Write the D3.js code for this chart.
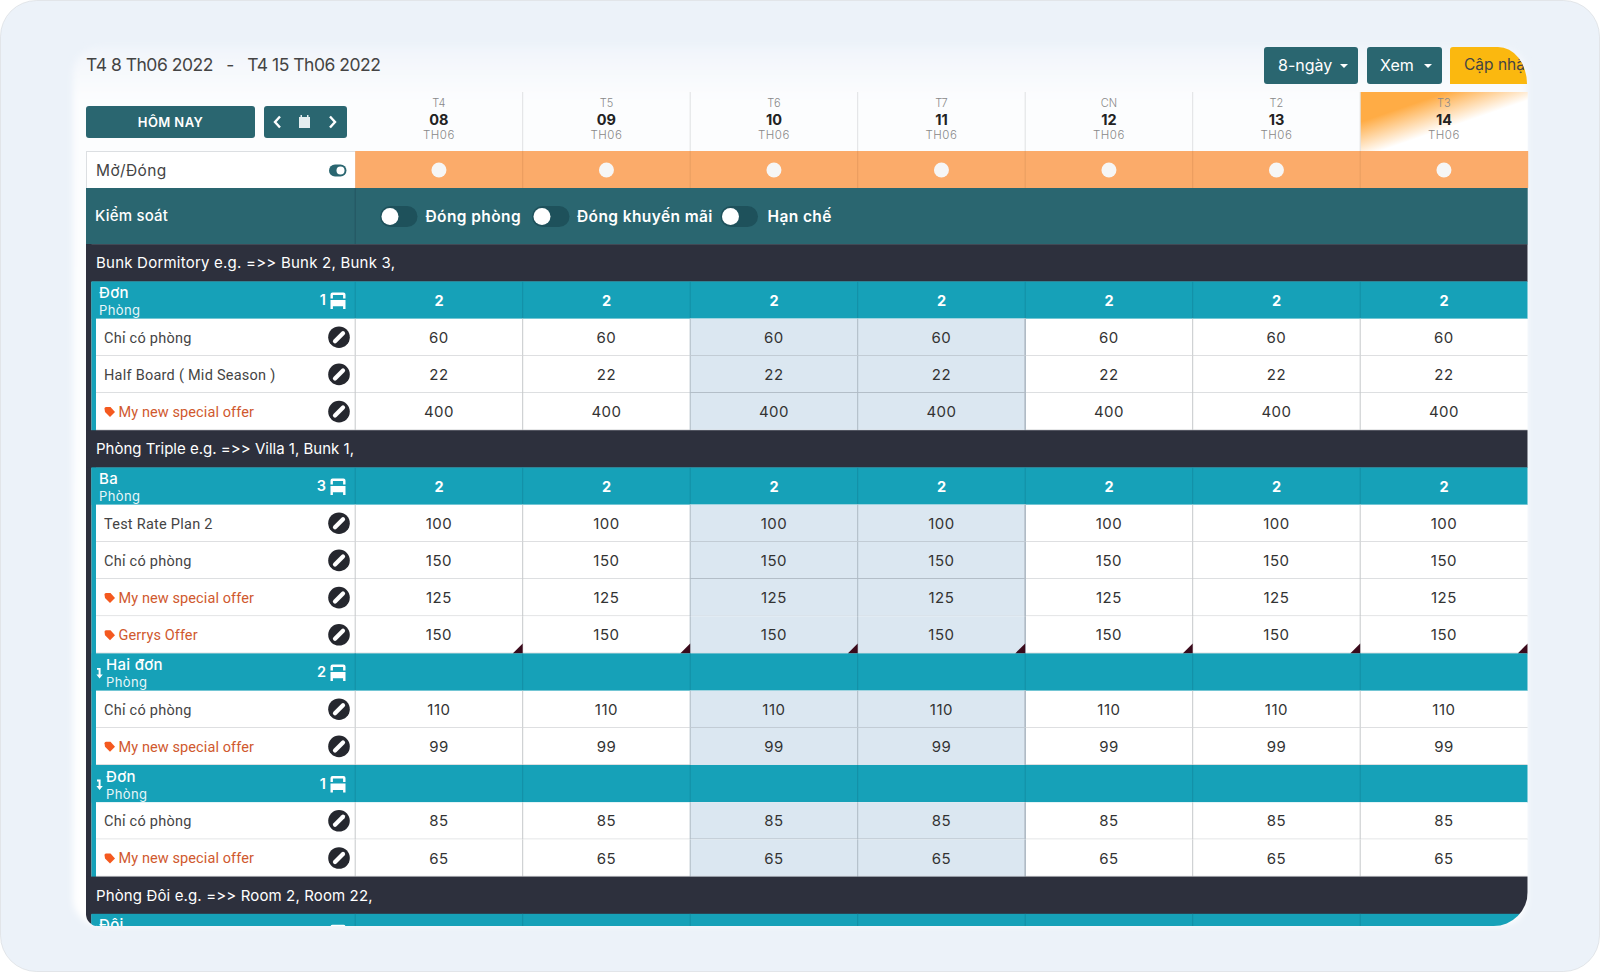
<!DOCTYPE html>
<html><head><meta charset="utf-8">
<script src="https://cdnjs.cloudflare.com/ajax/libs/d3/7.8.5/d3.min.js"></script>
<style>html,body{margin:0;padding:0;background:#fff;overflow:hidden}svg{display:block}text{font-family:Inter,"Noto Sans",sans-serif;font-feature-settings:"calt" 0,"liga" 0}</style>
</head><body><div id="c"></div>
<script>
const dayNames=['T4','T5','T6','T7','CN','T2','T3'];
const dayDates=['08','09','10','11','12','13','14'];
const monthNames=['TH06','TH06','TH06','TH06','TH06','TH06','TH06'];
const titleText='T4 8 Th06 2022   -   T4 15 Th06 2022';
const rowTypes=['group','room','plan','plan','offer','group','room','plan','plan','offer','flag','room','plan','offer','room','plan','offer','group','room'];
const rowLabels=['Bunk Dormitory e.g. =>> Bunk 2, Bunk 3,','Đơn','Chỉ có phòng','Half Board ( Mid Season )','My new special offer','Phòng Triple e.g. =>> Villa 1, Bunk 1,','Ba','Test Rate Plan 2','Chỉ có phòng','My new special offer','Gerrys Offer','Hai đơn','Chỉ có phòng','My new special offer','Đơn','Chỉ có phòng','My new special offer','Phòng Đôi e.g. =>> Room 2, Room 22,','Đôi'];
const roomCounts=[null,1,null,null,null,null,3,null,null,null,null,2,null,null,1,null,null,null,null];
const subRoom=[0,0,0,0,0,0,0,0,0,0,0,1,0,0,1,0,0,0,0];
const rowValues=[
 [],[2,2,2,2,2,2,2],[60,60,60,60,60,60,60],[22,22,22,22,22,22,22],[400,400,400,400,400,400,400],
 [],[2,2,2,2,2,2,2],[100,100,100,100,100,100,100],[150,150,150,150,150,150,150],[125,125,125,125,125,125,125],[150,150,150,150,150,150,150],
 [],[110,110,110,110,110,110,110],[99,99,99,99,99,99,99],
 [],[85,85,85,85,85,85,85],[65,65,65,65,65,65,65],
 [],[]];
const shadedDays=['10','11'];
const controlLabels=['Đóng phòng','Đóng khuyến mãi','Hạn chế'];
const c={bg:'#ecf2f9',dark:'#2d303d',teal:'#16a1b8',green:'#2a6670',orange:'#fbab6a',shade:'#dbe7f1',line:'#d6d8da',vline:'#c6c8ca',shadeLine:'#acb8c3',ink:'#333',offer:'#d0592e',tag:'#f4591f'};

const svg=d3.select('#c').append('svg').attr('width',1600).attr('height',972);
const defs=svg.append('defs');
const x=d3.scaleBand().domain(dayDates).range([355.2,1527.7]);
const y=d3.scaleBand().domain(d3.range(rowTypes.length)).range([244.2,244.2+37.2*rowTypes.length]);
const L=86,R=1527.7,B=926;

const blur=defs.append('filter').attr('id','soft').attr('x','-5%').attr('y','-5%').attr('width','110%').attr('height','110%');
blur.append('feGaussianBlur').attr('stdDeviation',3);
const pg=defs.append('linearGradient').attr('id','pg').attr('x1',0).attr('y1',0).attr('x2',0).attr('y2',1);
pg.append('stop').attr('offset',0).attr('stop-color','#f1f5fb');
pg.append('stop').attr('offset',0.06).attr('stop-color','#fcfdfe');
pg.append('stop').attr('offset',1).attr('stop-color','#fff');
const og=defs.append('linearGradient').attr('id','og').attr('gradientUnits','userSpaceOnUse').attr('x1',1372).attr('y1',118).attr('x2',1383).attr('y2',150);
og.append('stop').attr('offset',0).attr('stop-color','#ffac45');
og.append('stop').attr('offset',1).attr('stop-color','#fff');
defs.append('clipPath').attr('id','tbl').append('path').attr('d',`M${L},150H${R}V${B-34}A34,34 0 0 1 ${R-34},${B}H${L+12}A12,12 0 0 1 ${L},${B-12}Z`);
defs.append('clipPath').attr('id','upd').append('path').attr('d',`M1450,50A3,3 0 0 1 1453,47H1498A29,37 0 0 1 1527,84H1450Z`);

svg.append('rect').attr('width',1600).attr('height',972).attr('fill','#fff');
svg.append('rect').attr('x',0.5).attr('y',0.5).attr('width',1599).attr('height',971).attr('rx',36).attr('fill',c.bg).attr('stroke','#d5d8dc').attr('stroke-width',0.6);
svg.append('rect').attr('x',73).attr('y',47).attr('width',1454).attr('height',878).attr('rx',26).attr('fill','url(#pg)').attr('filter','url(#soft)');

// Title
svg.append('text').attr('x',86).attr('y',71).attr('font-size',17.5).attr('fill','#444').style('white-space','pre').attr('textLength',295).text(titleText);

function btn(x0,y0,w,h,label,tx,fs,ta,weight,ls){
  svg.append('rect').attr('x',x0).attr('y',y0).attr('width',w).attr('height',h).attr('rx',3).attr('fill',c.green);
  if(label) svg.append('text').attr('x',tx).attr('y',y0+h/2+fs*.36).attr('fill','#fff').attr('font-size',fs).attr('font-weight',weight||400).attr('text-anchor',ta||'start').attr('letter-spacing',ls||0).text(label);
}
btn(86,106,169,32,'HÔM NAY',170.5,13,'middle',600,0.4);
btn(264,106,83,32);
svg.append('path').attr('d','M280,116.5l-5,5.5l5,5.5M330,116.5l5,5.5l-5,5.5').attr('fill','none').attr('stroke','#fff').attr('stroke-width',2.4);
svg.append('path').attr('d','M299,117h1.5v-2h1.5v2h5v-2h1.5v2h1.5v11h-11z').attr('fill','#e4eef0');
btn(1264,47,94,37,'8-ngày',1278,16);
btn(1367,47,75,37,'Xem',1380,16);
svg.append('path').attr('d','M1340,64h8l-4,4zM1424,64h8l-4,4z').attr('fill','#fff');
const upd=svg.append('g').attr('clip-path','url(#upd)');
upd.append('rect').attr('x',1450).attr('y',47).attr('width',78).attr('height',37).attr('fill','#fbb80f');
upd.append('text').attr('x',1464).attr('y',70).attr('font-size',15.5).attr('fill','#444').text('Cập nhật');

// Column header
svg.append('rect').attr('x',x('14')).attr('y',92).attr('width',x.bandwidth()).attr('height',59).attr('fill','url(#og)');
svg.selectAll('line.hd').data(dayDates.slice(1)).join('line').attr('x1',d=>x(d)).attr('x2',d=>x(d)).attr('y1',92).attr('y2',151).attr('stroke','#dfe1e3');
const cx=d=>x(d)+x.bandwidth()/2;
svg.selectAll('text.dn').data(dayDates).join('text').attr('x',cx).attr('y',107).attr('text-anchor','middle').attr('font-size',11).attr('fill','#888').attr('font-weight',300).text((d,i)=>dayNames[i]);
svg.selectAll('text.dd').data(dayDates).join('text').attr('x',cx).attr('y',125).attr('text-anchor','middle').attr('font-size',14.5).attr('font-weight',700).attr('fill','#222').text(d=>d);
svg.selectAll('text.mn').data(dayDates).join('text').attr('x',cx).attr('y',139).attr('text-anchor','middle').attr('font-size',11.5).attr('font-weight',300).attr('letter-spacing',0.5).attr('fill','#888').text((d,i)=>monthNames[i]);

// Mo/Dong row
svg.append('rect').attr('x',86.5).attr('y',151.5).attr('width',269).attr('height',37).attr('fill','#fff').attr('stroke','#dcdfe2');
svg.append('text').attr('x',96).attr('y',176).attr('font-size',15.5).attr('fill','#444').attr('letter-spacing',0.4).text('Mở/Đóng');
svg.append('rect').attr('x',329).attr('y',164.5).attr('width',17.5).attr('height',12).attr('rx',6).attr('fill',c.green);
svg.append('circle').attr('cx',340.5).attr('cy',170.5).attr('r',4).attr('fill','#fff');
svg.selectAll('rect.op').data(dayDates).join('rect').attr('x',d=>x(d)).attr('y',151).attr('width',x.bandwidth()+.5).attr('height',37).attr('fill',c.orange);
svg.selectAll('line.op').data(dayDates.slice(1)).join('line').attr('x1',d=>x(d)).attr('x2',d=>x(d)).attr('y1',151).attr('y2',188).attr('stroke','#e89c5e');
svg.selectAll('circle.op').data(dayDates).join('circle').attr('cx',cx).attr('cy',170).attr('r',7.5).attr('fill','#f6f6f6');

// Kiem soat row
svg.append('rect').attr('x',L).attr('y',188).attr('width',R-L).attr('height',56.5).attr('fill',c.green);
svg.append('line').attr('x1',355.2).attr('x2',355.2).attr('y1',188).attr('y2',244).attr('stroke','#235660');
svg.append('text').attr('x',95).attr('y',221).attr('font-size',15).attr('font-weight',500).attr('letter-spacing',0.2).attr('fill','#fff').text('Kiểm soát');
const ctrlX=[380,532,720.5],ctrlT=[425.5,577,767.5];
controlLabels.forEach((t,i)=>{
  svg.append('rect').attr('x',ctrlX[i]).attr('y',206).attr('width',37.5).attr('height',21).attr('rx',10.5).attr('fill','#1e515b');
  svg.append('circle').attr('cx',ctrlX[i]+10).attr('cy',216.5).attr('r',8.5).attr('fill','#fff');
  svg.append('text').attr('x',ctrlT[i]).attr('y',221.5).attr('font-size',15.5).attr('font-weight',600).attr('letter-spacing',0.4).attr('fill','#fff').text(t);
});

// Table
const groupWidth={0:299,5:258,17:276.5};
const t=svg.append('g').attr('clip-path','url(#tbl)');
t.append('rect').attr('x',L).attr('y',244).attr('width',5.5).attr('height',B-244).attr('fill',c.dark);
t.append('rect').attr('x',91.5).attr('y',282).attr('width',4.5).attr('height',B-282).attr('fill',c.teal);
const rows=t.selectAll('g.row').data(rowTypes).join('g').attr('class','row').attr('transform',(d,i)=>`translate(0,${y(i)})`);
const H=y.bandwidth();
rows.each(function(type,i){
  const g=d3.select(this);
  if(type==='group'){
    g.append('rect').attr('x',L).attr('width',R-L).attr('height',H+.4).attr('fill',c.dark);
    g.append('text').attr('x',96).attr('y',24.3).attr('font-size',15).attr('textLength',groupWidth[i]).attr('fill','#fff').text(rowLabels[i]);
  } else if(type==='room'){
    g.append('rect').attr('x',91.5).attr('width',R-91.5).attr('height',H+.4).attr('fill',c.teal);
    g.selectAll('line').data(dayDates).join('line').attr('x1',d=>x(d)).attr('x2',d=>x(d)).attr('y1',0).attr('y2',H).attr('stroke','#138ea4');
    const tx=subRoom[i]?106:99;
    g.append('text').attr('x',tx).attr('y',16.5).attr('font-size',15).attr('font-weight',500).attr('letter-spacing',0.3).attr('fill','#fff').text(rowLabels[i]);
    g.append('text').attr('x',tx).attr('y',33.5).attr('font-size',13).attr('letter-spacing',0.4).attr('fill','#e8f6f9').text('Phòng');
    if(subRoom[i]) g.append('path').attr('d','M97,14.5h3.6v6.5h2.2l-3.2,4l-3.2,-4h2.2v-4.6h-1.6z').attr('fill','#fff');
    g.append('text').attr('x',326).attr('y',24).attr('text-anchor','end').attr('font-size',14.5).attr('font-weight',600).attr('fill','#fff').text(roomCounts[i]);
    g.append('path').attr('d','M330.5,13a2,2 0 0 1 2,-2h11a2,2 0 0 1 2,2v4h-2.4v-3.4h-10.2v3.4h-2.4zM330.5,18.5h15v9h-2.4v-2.6h-10.2v2.6h-2.4z').attr('fill','#fff');
    g.selectAll('text.v').data(rowValues[i]).join('text').attr('x',(d,j)=>cx(dayDates[j])).attr('y',24.5).attr('text-anchor','middle').attr('font-size',14.5).attr('font-weight',700).attr('fill','#fff').text(d=>d);
  } else {
    g.append('rect').attr('x',96).attr('width',R-96).attr('height',H).attr('fill','#fff');
    g.selectAll('rect.s').data(shadedDays).join('rect').attr('x',d=>x(d)).attr('width',x.bandwidth()).attr('height',H).attr('fill',c.shade);
    g.append('line').attr('x1',96).attr('x2',R).attr('y1',H-.3).attr('y2',H-.3).attr('stroke',c.line);
    g.selectAll('line.sh').data(shadedDays).join('line').attr('x1',d=>x(d)).attr('x2',d=>x(d)+x.bandwidth()).attr('y1',H-.3).attr('y2',H-.3).attr('stroke',type==='offer'||type==='flag'?c.shade:c.shadeLine);
    g.selectAll('line.v').data(dayDates).join('line').attr('x1',d=>x(d)).attr('x2',d=>x(d)).attr('y1',0).attr('y2',H).attr('stroke',d=>(d==='10'||d==='11')?c.shadeLine:c.vline);
    g.append('line').attr('x1',x('12')).attr('x2',x('12')).attr('y1',0).attr('y2',H).attr('stroke',c.shadeLine).attr('stroke-width',1.4);
    const isOffer=type!=='plan';
    if(isOffer) g.append('path').attr('d','M104.5,15.5a1.5,1.5 0 0 1 1.5,-1.5h4.5l4.5,5l-5,5l-5,-5z').attr('fill',c.tag);
    g.append('text').attr('x',isOffer?118.5:104).attr('y',24).style('font-family','Roboto').attr('font-size',14.5).attr('letter-spacing',isOffer?0.1:0.25).attr('fill',isOffer?c.offer:'#444').text(rowLabels[i]);
    g.append('circle').attr('cx',339).attr('cy',18.6).attr('r',10.8).attr('fill','#25272e');
    g.append('line').attr('x1',335).attr('y1',22.6).attr('x2',343).attr('y2',14.6).attr('stroke','#fff').attr('stroke-width',4.2).attr('stroke-linecap','round');
    g.selectAll('text.v').data(rowValues[i]).join('text').attr('x',(d,j)=>cx(dayDates[j])).attr('y',24.2).attr('text-anchor','middle').attr('font-size',15).attr('letter-spacing',0.5).attr('fill',c.ink).text(d=>d);
    if(type==='flag'){
      g.selectAll('path.tr').data(dayDates).join('path').attr('d',d=>`M${x(d)+x.bandwidth()},${H-10}V${H}H${x(d)+x.bandwidth()-10}Z`).attr('fill','#3b0b1c');
    }
  }
});
</script></body></html>
